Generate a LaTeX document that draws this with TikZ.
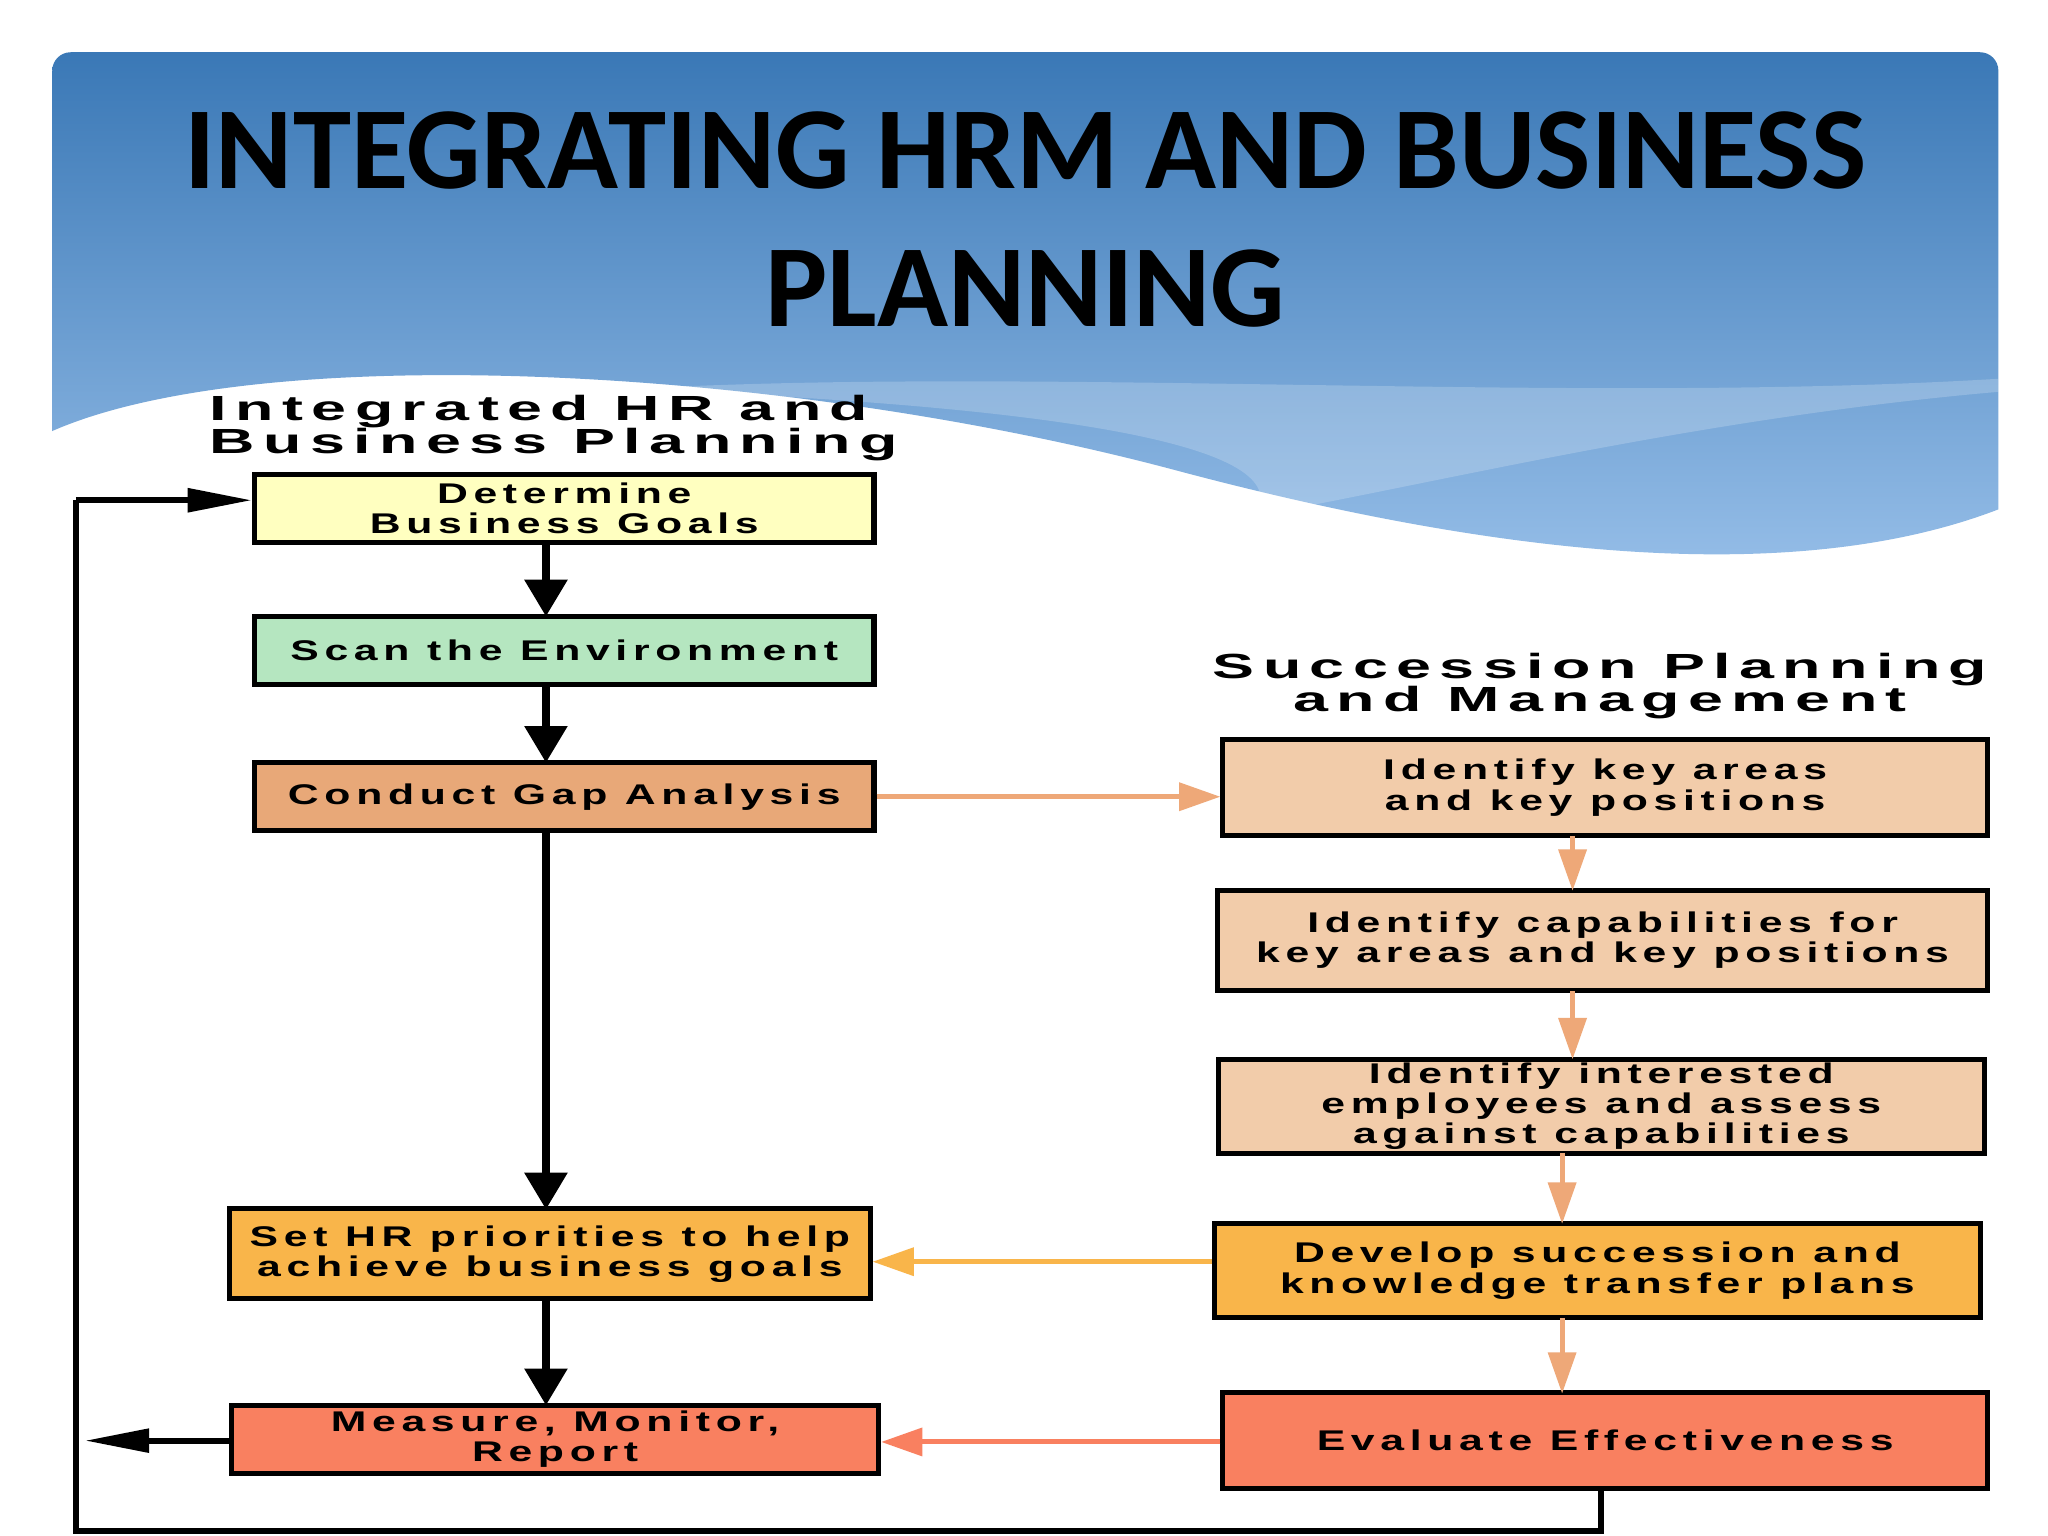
\documentclass[tikz,border=0pt]{standalone}
\usepackage{fontspec}
\setmainfont{Liberation Sans}
\newfontfamily\tfont{Carlito}[BoldFont={Carlito Bold}]
\newfontfamily\dfont{Liberation Sans Bold}[FakeStretch=1.5,LetterSpace=20]
\newfontfamily\hfont{Liberation Sans Bold}[FakeStretch=1.8,LetterSpace=24]
\usetikzlibrary{arrows.meta}
\definecolor{ylw}{HTML}{FFFFC0}
\definecolor{grn}{HTML}{B5E6C0}
\definecolor{gapc}{HTML}{E8A878}
\definecolor{pri}{HTML}{F9B54A}
\definecolor{redc}{HTML}{F98060}
\definecolor{pch}{HTML}{F2CCAA}
\definecolor{oar}{HTML}{EEA878}
\definecolor{btop}{HTML}{3A78B6}
\definecolor{bbot}{HTML}{96BEE8}
\begin{document}
\begin{tikzpicture}[x=0.01cm,y=-0.01cm,
 box/.style={draw=black,line width=1.1pt,inner sep=0,align=center,font=\dfont\fontsize{6.2}{6.6}\selectfont},
 blk/.style={line width=1.7pt,-{Triangle[length=8pt,width=9pt]}},
 org/.style={line width=1.1pt,draw=oar,-{Triangle[length=9pt,width=6pt]}},
 loop/.style={line width=1.3pt,-{Triangle[length=14pt,width=5pt]}}]
\useasboundingbox (0,0) rectangle (1568,1176);
\fill[white] (0,0) rectangle (1568,1176);
\shade[top color=btop,bottom color=bbot,rounded corners=4pt]
 (40,330) -- (40,40) -- (1530,40) [sharp corners] -- (1530,390)
 .. controls (1400,440) and (1200,440) .. (900,360) .. controls (600,280) and (200,260) .. (40,330) -- cycle;
\fill[white,opacity=0.2] (480,298) .. controls (800,280) and (1200,310) .. (1530,290) -- (1530,300) .. controls (1300,320) and (1100,370) .. (960,395) .. controls (1000,340) and (800,310) .. (480,298) -- cycle;
\node[font=\tfont\bfseries\fontsize{25.5}{30}\selectfont,align=center] (title) at (785,168) {INTEGRATING HRM AND BUSINESS\\PLANNING};
\node[font=\hfont\fontsize{7.6}{7.2}\selectfont,align=left,anchor=north west,inner sep=0] (h1) at (160,302) {Integrated HR and\\Business Planning};
\node[font=\hfont\fontsize{7.6}{7.2}\selectfont,align=center,inner sep=0] (h2) at (1225,525) {Succession Planning\\and Management};
\node[box,fill=ylw,minimum width=4.74cm,minimum height=0.52cm] (det) at (432,389) {Determine\\Business Goals};
\node[box,fill=grn,minimum width=4.74cm,minimum height=0.52cm] (scan) at (432,498) {Scan the Environment};
\node[box,fill=gapc,minimum width=4.74cm,minimum height=0.52cm] (gapb) at (432,610) {Conduct Gap Analysis};
\node[box,fill=pri,minimum width=4.9cm,minimum height=0.69cm] (set) at (421,960) {Set HR priorities to help\\achieve business goals};
\node[box,fill=redc,minimum width=4.95cm,minimum height=0.52cm] (meas) at (425,1102) {Measure, Monitor,\\Report};
\node[box,fill=pch,minimum width=5.85cm,minimum height=0.73cm] (r1) at (1229,603) {Identify key areas\\and key positions};
\node[box,fill=pch,minimum width=5.89cm,minimum height=0.77cm] (r2) at (1227,720) {Identify capabilities for\\key areas and key positions};
\node[box,fill=pch,minimum width=5.86cm,minimum height=0.72cm] (r3) at (1226,847) {Identify interested\\employees and assess\\against capabilities};
\node[box,fill=pri,minimum width=5.86cm,minimum height=0.72cm] (r4) at (1223,973) {Develop succession and\\knowledge transfer plans};
\node[box,fill=redc,minimum width=5.85cm,minimum height=0.73cm] (r5) at (1229,1103) {Evaluate Effectiveness};
\draw[blk] (418,415) -- (418,472);
\draw[blk] (418,524) -- (418,584);
\draw[blk] (418,636) -- (418,926);
\draw[blk] (418,995) -- (418,1076);
\draw[org] (gapb.east) -- (gapb.east -| r1.west);
\draw[org] (1204,640) -- (1204,682);
\draw[org] (1204,759) -- (1204,811);
\draw[org] (1196,883) -- (1196,937);
\draw[org] (1196,1009) -- (1196,1067);
\draw[org,draw=pri] (r4.west |- 0,966) -- (set.east |- 0,966);
\draw[org,draw=redc] (r5.west |- 0,1104) -- (meas.east |- 0,1104);
\coordinate (le) at (65,1103);
\draw[loop] (meas.west |- le) -- (le);
\draw[line width=1.3pt] (1226,1140) |- (58,1172) -- (58,383);
\draw[loop] (58,383) -- (det.west |- 0,383);
\end{tikzpicture}
\end{document}
